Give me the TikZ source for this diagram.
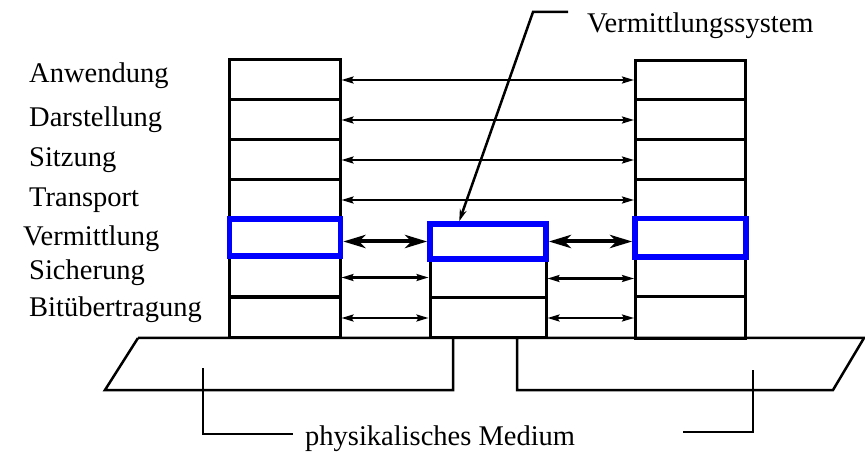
\documentclass[tikz,border=0pt]{standalone}
\usepackage{fontspec}
\setmainfont{Liberation Serif}
\usetikzlibrary{arrows.meta,calc}
\begin{document}
\begin{tikzpicture}[x=1pt,y=-1pt,
  layer/.style={draw, line width=3pt, inner sep=0pt, minimum height=40pt},
  bluelayer/.style={draw=blue, line width=5.5pt, inner sep=0pt},
  lbl/.style={anchor=base west, inner sep=0pt, font=\fontsize{28.5}{30}\selectfont},
  thinarrow/.style={line width=2.2pt, {Stealth[length=12pt,width=7pt,inset=2pt]}-{Stealth[length=12pt,width=7pt,inset=2pt]}},
  thickarrow/.style={line width=4pt, {Stealth[length=22pt,width=13pt,inset=6pt]}-{Stealth[length=22pt,width=13pt,inset=6pt]}},
  leader/.style={line width=2.5pt},
  platform/.style={line width=2.5pt, line join=miter}
]
\useasboundingbox (0,0) rectangle (865,454);

% left stack
\node[layer, minimum width=111pt] (la) at (284.5,80) {};
\node[layer, minimum width=111pt] (ld) at (284.5,120) {};
\node[layer, minimum width=111pt] (ls) at (284.5,160) {};
\node[layer, minimum width=111pt] (lt) at (284.5,200) {};
\node[layer, minimum width=111pt, minimum height=39pt] (lsi) at (284.5,277.5) {};
\node[layer, minimum width=111pt, minimum height=40pt] (lb) at (284.5,318) {};
\node[bluelayer, minimum width=111pt, minimum height=37pt] (lv) at (285,237.5) {};

% right stack
\node[layer, minimum width=110pt, minimum height=39pt] (ra) at (690.5,80.5) {};
\node[layer, minimum width=110pt] (rd) at (690.5,120) {};
\node[layer, minimum width=110pt] (rs) at (690.5,160) {};
\node[layer, minimum width=110pt] (rt) at (690.5,200) {};
\node[layer, minimum width=110pt, minimum height=38pt] (rsi) at (690.5,278) {};
\node[layer, minimum width=110pt, minimum height=42pt] (rb) at (690.5,318) {};
\node[bluelayer, minimum width=111pt, minimum height=38.5pt] (rv) at (690.5,238) {};

% middle stack
\node[layer, minimum width=116pt, minimum height=39pt] (msi) at (488,278.5) {};
\node[layer, minimum width=116pt, minimum height=40pt] (mb) at (488,318) {};
\node[bluelayer, minimum width=116pt, minimum height=35pt] (mv) at (488,241.5) {};

% peer arrows
\draw[thinarrow] (la.east) -- (ra.west |- la.east);
\draw[thinarrow] (ld.east) -- (rd.west |- ld.east);
\draw[thinarrow] (ls.east) -- (rs.west |- ls.east);
\draw[thinarrow] (lt.east) -- (rt.west |- lt.east);
\draw[thickarrow] (lv.east |- mv.west) -- (mv.west);
\draw[thickarrow] (mv.east) -- (rv.west |- mv.east);
\draw[thinarrow] (lsi.east) -- (msi.west |- lsi.east);
\draw[thinarrow] (msi.east) -- (rsi.west |- msi.east);
\draw[thinarrow] (lb.east |- mb.west) -- (mb.west);
\draw[thinarrow] (mb.east) -- (rb.west |- mb.east);

% labels
\node[lbl] (tA) at (29,83) {Anwendung};
\node[lbl] (tD) at (29,127) {Darstellung};
\node[lbl] (tS) at (29,167) {Sitzung};
\node[lbl] (tT) at (29,207) {Transport};
\node[lbl] (tV) at (23,246) {Vermittlung};
\node[lbl] (tSi) at (29,280) {Sicherung};
\node[lbl] (tB) at (29,317) {Bitübertragung};
\node[lbl] (tVS) at (587,33) {Vermittlungssystem};
\node[lbl] (tPM) at (305,445) {physikalisches Medium};

% leader to Vermittlungssystem
\coordinate (vsA) at (568,12);
\coordinate (vsB) at (533,12);
\draw[leader, -{Stealth[length=12pt,width=7pt]}] (vsA) -- (vsB) -- ([xshift=32pt]mv.north west);

% platform
\coordinate (p1) at (138,338);
\coordinate (p2) at (864,338);
\coordinate (p3) at (833,390);
\coordinate (p4) at (517,390);
\coordinate (p5) at (517,338);
\coordinate (p6) at (453,338);
\coordinate (p7) at (453,390);
\coordinate (p8) at (105,390);
\draw[platform] (p1) -- (p2) -- (p3) -- (p4) -- (p5);
\draw[platform] (p6) -- (p7) -- (p8) -- (p1);

% brackets
\coordinate (bl1) at (203,368);
\coordinate (bl2) at (203,434);
\coordinate (bl3) at (293,434);
\coordinate (br1) at (753,370);
\coordinate (br2) at (753,432);
\coordinate (br3) at (683,432);
\draw[platform] (bl1) -- (bl2) -- (bl3);
\draw[platform] (br1) -- (br2) -- (br3);
\end{tikzpicture}
\end{document}
